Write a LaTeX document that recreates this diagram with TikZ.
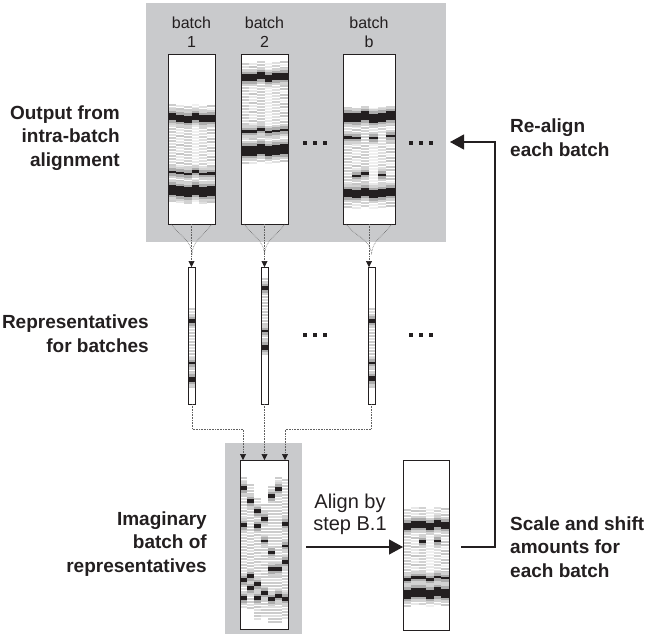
\documentclass[tikz,border=0pt]{standalone}
\usepackage{fontspec}
\setmainfont{Liberation Sans}
\usetikzlibrary{arrows.meta,calc}

\definecolor{ink}{RGB}{35,31,32}
\definecolor{panelgray}{RGB}{201,202,204}

% gel strip: x from #1 to #2 split in #3 lanes, stripes from #4 to #5,
% bands as centre/half height/lane mask in #6
\newcommand{\gel}[6]{%
  \pgfmathsetmacro\lw{(#2-#1)/#3}%
  \pgfmathtruncatemacro\nr{(#5-#4)/3}%
  \foreach \lane in {1,...,#3}{%
    \pgfmathsetmacro\xa{#1+(\lane-1)*\lw}%
    \pgfmathsetmacro\xb{\xa+\lw}%
    \pgfmathsetmacro\off{1.4*sin(\lane*131+#1*7)}%
    \foreach \row in {0,...,\nr}{%
      \pgfmathtruncatemacro\gshade{mod(\row*7+\lane*5+\row*\row,6)}%
      \ifcase\gshade \def\gcol{gray!45}\or\def\gcol{gray!25}\or\def\gcol{gray!12}\or
        \def\gcol{gray!35}\or\def\gcol{gray!18}\else\def\gcol{gray!40}\fi
      \fill[\gcol] (\xa,#4+3*\row+\off) rectangle (\xb,#4+3*\row+\off+2);
    }%
    \foreach \bc/\bh/\bmask in {#6}{%
      \pgfmathtruncatemacro\lon{mod(floor(\bmask/2^(\lane-1)),2)}%
      \ifnum\lon=1
        \fill[gray!35] (\xa,\bc+\off-\bh-5) rectangle (\xb,\bc+\off+\bh+5);
        \fill[gray!65] (\xa,\bc+\off-\bh-2.5) rectangle (\xb,\bc+\off+\bh+2.5);
        \fill[ink] (\xa,\bc+\off-\bh) rectangle (\xb,\bc+\off+\bh);
      \fi
    }%
  }%
}

\begin{document}
\begin{tikzpicture}[x=1pt,y=-1pt,
  panel/.style={fill=panelgray, inner sep=0pt, outer sep=0pt},
  lanebox/.style={draw=ink, line width=0.9pt, fill=white, inner sep=0pt, outer sep=0pt},
  fan/.style={densely dotted, line width=0.6pt, draw=gray!75!black},
  tip/.style={-{Triangle[length=6pt,width=6pt,color=ink]}},
  flow/.style={draw=ink, line width=1.2pt, -{Triangle[length=14pt,width=15pt]}},
  lbl/.style={font=\bfseries\fontsize{19}{23.5}\selectfont, text=ink, inner sep=0pt},
  hdr/.style={font=\fontsize{16}{19}\selectfont, text=ink, inner sep=0pt, align=center, anchor=base}]

\useasboundingbox (0,0) rectangle (646,641);

% grey backgrounds
\node[panel, minimum width=300pt, minimum height=239pt] (top) at (296,122.5) {};
\node[panel, minimum width=77pt, minimum height=191pt] (imp) at (263.5,538.5) {};

% batches, representatives, imaginary batch, aligned batch
\node[lanebox, minimum width=47pt, minimum height=170pt] (c1) at (191.5,139) {};
\node[lanebox, minimum width=47pt, minimum height=170pt] (c2) at (264.5,139) {};
\node[lanebox, minimum width=52pt, minimum height=170pt] (cb) at (369,139) {};
\node[lanebox, minimum width=7pt, minimum height=137pt] (r1) at (192,335.5) {};
\node[lanebox, minimum width=7pt, minimum height=137pt] (r2) at (264.5,335.5) {};
\node[lanebox, minimum width=7pt, minimum height=137pt] (rb) at (371.5,335.5) {};
\node[lanebox, minimum width=48pt, minimum height=169pt] (im) at (264,544.5) {};
\node[lanebox, minimum width=46pt, minimum height=170pt] (al) at (426,545) {};

% band patterns
\gel{168.5}{214.5}{6}{105}{202}{118/3.5/63, 173/1.2/63, 191/5/63}
\gel{241.5}{287.5}{6}{62}{162}{77/3.5/63, 131/1.2/63, 150/5/63}
\gel{343.5}{394.5}{6}{107}{206}{117/4.5/63, 137/1.2/43, 175/1.2/22, 193/4/63}
\gel{189}{195.5}{1}{308}{388}{321/2/1, 363/1/1, 379/2.5/1}
\gel{261.5}{267.5}{1}{278}{355}{288/2/1, 331/1/1, 347/2.5/1}
\gel{368.5}{374.5}{1}{308}{388}{321/2/1, 363/1/1, 379/2.5/1}
\gel{240.5}{247}{1}{477}{608}{488/2/1, 525/2/1, 580/2/1, 598/2/1}
\gel{247}{254}{1}{483}{608}{500/2/1, 575/2/1, 587/2/1}
\gel{254}{261}{1}{497}{618}{510/2/1, 525/2/1, 583/2/1, 597/2/1}
\gel{261}{268}{1}{503}{614}{518/2/1, 540/1/1, 592/2/1}
\gel{268}{275}{1}{487}{624}{497/2/1, 553/1.5/1, 570/2/1, 600/2/1}
\gel{275}{281.5}{1}{478}{624}{490/2/1, 570/2/1, 597/2/1}
\gel{281.5}{287.5}{1}{480}{618}{525/2/1, 547/1/1, 563/2/1, 600/2/1}
\gel{403.5}{448.5}{6}{508}{606}{525/3.5/63, 542/1.2/20, 578/1.2/63, 593/4.5/63}

\foreach \n in {c1,c2,cb,r1,r2,rb,im,al}
  \draw[ink, line width=0.9pt] (\n.north west) rectangle (\n.south east);

% batch columns feed their representatives
\foreach \n/\r in {c1/r1, c2/r2, cb/rb}{
  \coordinate (m\n) at ($(\r.north)+(0,-12)$);
  \draw[fan] ($(\n.south west)+(3,0)$) to[out=-55,in=90] (m\n);
  \draw[fan] ($(\n.south east)+(-3,0)$) to[out=-125,in=90] (m\n);
  \draw[fan, tip] (\n.south) -- (\n.south |- \r.north);
}

% representatives gathered into one batch
\coordinate (j1) at (243,429);
\coordinate (j3) at (285,429);
\draw[fan, tip] (r1.south) |- (j1) -- (j1 |- im.north);
\draw[fan, tip] (r2.south) -- (r2.south |- im.north);
\draw[fan, tip] (rb.south) |- (j3) -- (j3 |- im.north);

% align, then feed back
\coordinate (a0) at (306,547);
\draw[flow] (a0) -- (a0 -| al.west);
\coordinate (f0) at (461,547);
\coordinate (f1) at (495,142);
\draw[flow] (f0) -| (f1) -- ($(f1 -| top.east)+(4,0)$);

% ellipses
\foreach \x/\y in {315/143, 421/143, 315/335, 421/335}
  \foreach \d in {-10,0,10}
    \fill[ink] (\x+\d-2,\y-2) rectangle ++(4,4);

% labels (base = last line)
\node[hdr] (h1) at (191.5,47) {batch\\1};
\node[hdr] (h2) at (264.5,47) {batch\\2};
\node[hdr] (hb) at (369,47) {batch\\b};
\node[lbl, anchor=base east, align=right] (t1) at (120,166) {Output from\\intra-batch\\alignment};
\node[lbl, anchor=base east, align=right] (t2) at (149,352) {Representatives\\for batches};
\node[lbl, anchor=base east, align=right] (t3) at (207,572) {Imaginary\\batch of\\representatives};
\node[lbl, anchor=base west, align=left] (t4) at (510,156) {Re-align\\each batch};
\node[lbl, anchor=base west, align=left] (t5) at (510,577) {Scale and shift\\amounts for\\each batch};
\node[hdr, font=\fontsize{20}{22}\selectfont] (t6) at (350,530) {Align by\\step B.1};
\end{tikzpicture}
\end{document}
